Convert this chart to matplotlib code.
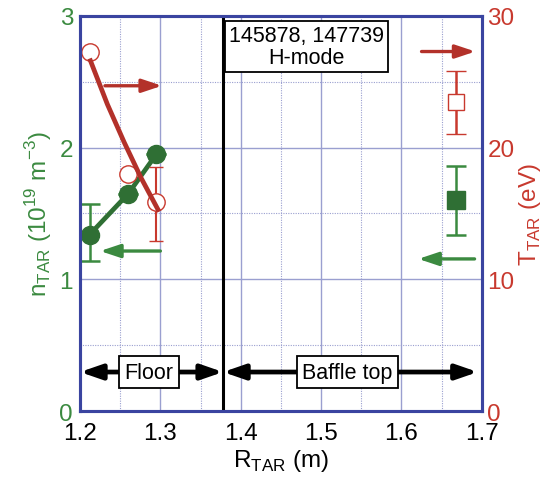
import matplotlib

matplotlib.use("Agg")

import matplotlib.pyplot as plt
from matplotlib.ticker import FormatStrFormatter, MultipleLocator

plt.rcParams["font.family"] = ["Liberation Sans", "DejaVu Sans"]

GREEN = "#3b8a40"
DKGREEN = "#2f6f34"
RED = "#c8392e"
DKRED = "#b3312a"
FRAME = "#3a44a0"
GRID = "#9a9fd0"

# floor data (density, left axis)
floor_r = [1.212, 1.26, 1.295]
floor_n = [1.34, 1.65, 1.95]
floor_n_err_lo = [0.20, 0.0, 0.0]
floor_n_err_hi = [0.23, 0.0, 0.0]

# floor data (temperature, right axis)
floor_t = [27.3, 18.0, 15.9]
floor_t_err_lo = [0.0, 0.0, 3.0]
floor_t_err_hi = [0.0, 0.0, 2.6]
fit_r = [1.213, 1.234, 1.255, 1.276, 1.297]
fit_t = [26.6, 23.3, 20.4, 17.7, 15.3]

# baffle top data
baffle_r = [1.668]
baffle_n = [1.60]
baffle_n_err = [[0.26], [0.26]]
baffle_t = [23.5]
baffle_t_err = [[2.5], [2.3]]

FLOOR_EDGE = 1.378

fig = plt.figure(figsize=(5.5, 4.85), dpi=100)
ax = fig.add_axes([0.1455, 0.1505, 0.7305, 0.8145])
ax2 = ax.twinx()

ax.set_xlim(1.2, 1.7)
ax.set_ylim(0, 3)
ax2.set_ylim(0, 30)

ax.xaxis.set_major_locator(MultipleLocator(0.1))
ax.xaxis.set_minor_locator(MultipleLocator(0.05))
ax.xaxis.set_major_formatter(FormatStrFormatter("%.1f"))
ax.yaxis.set_major_locator(MultipleLocator(1))
ax.yaxis.set_minor_locator(MultipleLocator(0.5))
ax2.yaxis.set_major_locator(MultipleLocator(10))
ax.grid(which="major", color=GRID, lw=1.0)
ax.grid(which="minor", color=GRID, lw=0.8, ls=(0, (1, 1.2)))
ax.set_axisbelow(True)

for a in (ax, ax2):
    for sp in a.spines.values():
        sp.set_color(FRAME)
        sp.set_linewidth(2.2)
ax.tick_params(axis="x", which="both", length=0, labelsize=17.5, pad=8)
ax.tick_params(axis="y", which="both", length=0, labelsize=17.5, pad=5,
               labelcolor=GREEN)
ax2.tick_params(axis="y", which="both", length=0, labelsize=17.5,
                labelcolor=RED, pad=4)

ax.set_xlabel(r"R$_{\mathregular{TAR}}$ (m)", fontsize=17.5, labelpad=2)
ax.set_ylabel(r"n$_{\mathregular{TAR}}$ (10$^{\mathregular{19}}$ m$^{\mathregular{-3}}$)",
              fontsize=17.5, color=GREEN, labelpad=4)
ax2.set_ylabel(r"T$_{\mathregular{TAR}}$ (eV)", fontsize=17.5, color=RED,
               labelpad=2)

# floor / baffle boundary
ax.axvline(FLOOR_EDGE, color="black", lw=2.2, zorder=3)

# temperature on floor
ax2.plot(fit_r, fit_t, color=DKRED, lw=3.4, zorder=2)
ax2.errorbar(floor_r, floor_t, yerr=[floor_t_err_lo, floor_t_err_hi],
             fmt="o", ms=12.5, mfc="white", mec=RED, mew=1.0, ecolor=RED,
             elinewidth=1.5, capsize=5, capthick=1.5, zorder=1)
ax2.errorbar(baffle_r, baffle_t, yerr=baffle_t_err, fmt="s", ms=12,
             mfc="white", mec=RED, mew=1.0, ecolor=RED, elinewidth=1.8,
             capsize=7, capthick=1.8, zorder=3)

# density on floor
ax.plot(floor_r, floor_n, color=DKGREEN, lw=3.4, zorder=4)
ax.errorbar(floor_r, floor_n, yerr=[floor_n_err_lo, floor_n_err_hi],
            fmt="o", ms=13, color=DKGREEN, ecolor=GREEN, elinewidth=1.8,
            capsize=7, capthick=1.8, zorder=5)
ax.errorbar(baffle_r, baffle_n, yerr=baffle_n_err, fmt="s", ms=13,
            color=DKGREEN, ecolor=GREEN, elinewidth=1.8, capsize=7,
            capthick=1.8, zorder=5)

# axis-indicator arrows
arr = dict(arrowstyle="-|>,head_length=1.2,head_width=0.4", lw=2.4,
           shrinkA=0, shrinkB=0)
ax.annotate("", xy=(1.302, 2.47), xytext=(1.231, 2.47),
            arrowprops=dict(arr, color=DKRED), zorder=6)
ax.annotate("", xy=(1.692, 2.73), xytext=(1.625, 2.73),
            arrowprops=dict(arr, color=DKRED), zorder=6)
ax.annotate("", xy=(1.225, 1.215), xytext=(1.300, 1.215),
            arrowprops=dict(arr, color=GREEN), zorder=6)
ax.annotate("", xy=(1.621, 1.155), xytext=(1.691, 1.155),
            arrowprops=dict(arr, color=GREEN), zorder=6)

# region arrows
dbl = dict(arrowstyle="<|-|>,head_length=1.3,head_width=0.45", lw=3.4,
           color="black", shrinkA=0, shrinkB=0)
ax.annotate("", xy=(1.2, 0.296), xytext=(FLOOR_EDGE, 0.296),
            arrowprops=dbl, zorder=6)
ax.annotate("", xy=(FLOOR_EDGE, 0.296), xytext=(1.695, 0.296),
            arrowprops=dbl, zorder=6)
box = dict(boxstyle="square,pad=0.25", fc="white", ec="black", lw=1.3)
ax.text(1.286, 0.296, "Floor", fontsize=15.5, ha="center", va="center",
        bbox=box, zorder=7)
ax.text(1.533, 0.296, "Baffle top", fontsize=15.5, ha="center", va="center",
        bbox=box, zorder=7)

ax.text(1.482, 2.77, "145878, 147739\nH-mode", fontsize=15.5, ha="center",
        va="center", linespacing=1.05,
        bbox=dict(boxstyle="square,pad=0.2", fc="white", ec="black", lw=1.3),
        zorder=7)

fig.savefig("out.png", dpi=100)
